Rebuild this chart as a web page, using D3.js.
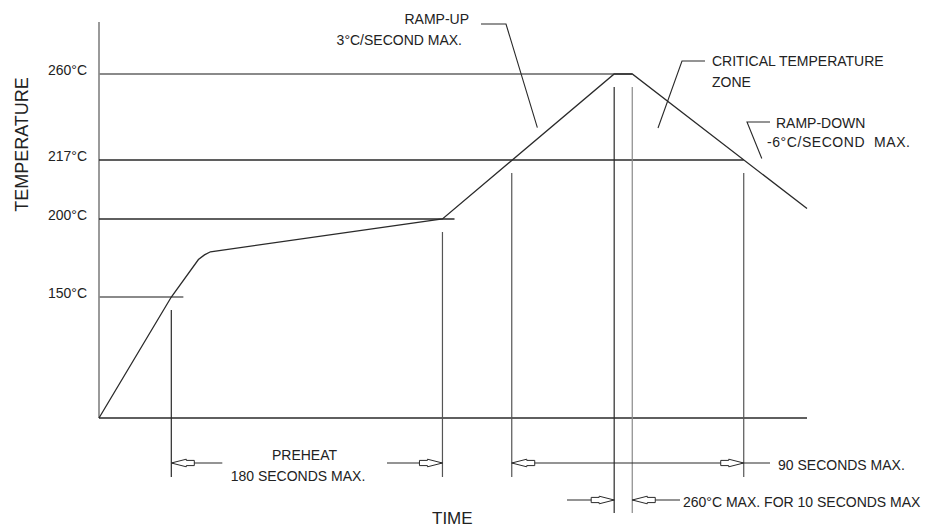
<!DOCTYPE html>
<html>
<head>
<meta charset="utf-8">
<script src="https://cdn.jsdelivr.net/npm/d3@7/dist/d3.min.js"></script>
<style>
  html, body { margin: 0; padding: 0; background: #fff; }
  svg { display: block; }
  text { font-family: "Liberation Sans", Arial, sans-serif; fill: #222; }
</style>
</head>
<body>
<svg id="chart" width="929" height="529"></svg>
<script>
// ---- data (schematic reflow profile) ----
const profileTime = [0, 48, 66, 70, 74, 228, 342, 354, 470];
const profileTemp = [25, 150, 174, 177, 179, 200, 260, 260, 203];
const refTemps = [260, 217, 200, 150];
const refEnds = [354, 428, 236, 56];
const tickValues = [260, 217, 200, 150];
const tickLabels = ["260°C", "217°C", "200°C", "150°C"];
const markerTimes = [48, 228, 274, 342, 354, 428];
const markerTemps = [150, 200, 217, 260, 260, 217];
const leaderTimes = [291, 440]; // ramp-up, ramp-down leader targets on the curve

const svg = d3.select("#chart");
const x = d3.scaleLinear().domain([0, 470]).range([99, 807]);
const y = d3.scaleLinear().domain([25, 150, 200, 217, 260]).range([418, 297, 219, 160, 74]);

const dark = "#2a2a2a", mid = "#555", light = "#8a8a8a";

// y axis line
svg.append("line").attr("x1", x(0)).attr("x2", x(0)).attr("y1", 22).attr("y2", y(25))
  .attr("stroke", "#9a9a9a").attr("stroke-width", 2);

// tick labels through axis
const yAxis = d3.axisLeft(y).tickValues(tickValues).tickSize(0).tickPadding(12)
  .tickFormat(d => tickLabels[tickValues.indexOf(d)]);
const ag = svg.append("g").attr("transform", `translate(${x(0)},0)`).call(yAxis);
ag.select(".domain").remove();
ag.selectAll("text").attr("dy", "0.07em").style("font-size", "14px")
  .style("font-family", '"Liberation Sans", Arial, sans-serif').attr("fill", "#222");

// reference lines
const refStyle = {260: [light, 2], 217: [dark, 1.3], 200: [dark, 1.3], 150: [light, 2]};
refTemps.forEach((t, i) => {
  svg.append("line").attr("x1", x(0)).attr("x2", x(refEnds[i]))
    .attr("y1", y(t)).attr("y2", y(t))
    .attr("stroke", refStyle[t][0]).attr("stroke-width", refStyle[t][1]);
});

// x axis line
svg.append("line").attr("x1", x(0)).attr("x2", x(470)).attr("y1", y(25)).attr("y2", y(25))
  .attr("stroke", dark).attr("stroke-width", 1.3);

// profile curve
const pts = profileTime.map((t, i) => [t, profileTemp[i]]);
svg.append("path").datum(pts)
  .attr("d", d3.line().x(d => x(d[0])).y(d => y(d[1])))
  .attr("fill", "none").attr("stroke", dark).attr("stroke-width", 1.3);

// marker extension lines
const row1 = 463, row2 = 500;
const markerBottoms = [row1 + 14, row1 + 14, row1 + 14, row2 + 13, row2 + 13, row1 + 14];
const markerColors = [dark, mid, mid, dark, light, mid];
markerTimes.forEach((t, i) => {
  svg.append("line").attr("x1", x(t)).attr("x2", x(t))
    .attr("y1", y(markerTemps[i]) + 13).attr("y2", markerBottoms[i])
    .attr("stroke", markerColors[i]).attr("stroke-width", 1.2);
});

// arrowheads (pencil-like: triangle + small tail box)
function arrow(tipX, tipY, dir) { // dir = -1 pointing left, +1 pointing right
  const L = 23, m = 15, h = 3.8, hb = 2.6;
  const p = [[0, 0], [m, -h], [m, -hb], [L, -hb], [L, hb], [m, hb], [m, h]]
    .map(([a, b]) => [tipX - dir * a, tipY + b]);
  svg.append("path").attr("d", "M" + p.map(q => q.join(",")).join("L") + "Z")
    .attr("fill", "#fff").attr("stroke", dark).attr("stroke-width", 1);
}
function seg(x1, x2, yy) {
  svg.append("line").attr("x1", x1).attr("x2", x2).attr("y1", yy).attr("y2", yy)
    .attr("stroke", dark).attr("stroke-width", 1.1);
}
const mx = markerTimes.map(t => x(t));
// preheat
seg(mx[0], mx[0] + 51, row1); arrow(mx[0], row1, -1);
seg(387, mx[1], row1); arrow(mx[1], row1, 1);
// 90 seconds
seg(mx[2], 770, row1); arrow(mx[2], row1, -1); arrow(mx[5], row1, 1);
// 10 seconds at peak
seg(567, mx[3], row2); arrow(mx[3], row2, 1);
seg(mx[4], 680, row2); arrow(mx[4], row2, -1);

// leaders
function curveTempAt(t) { return d3.scaleLinear().domain(profileTime).range(profileTemp)(t); }
function leader(points) {
  svg.append("path").attr("d", d3.line()(points))
    .attr("fill", "none").attr("stroke", dark).attr("stroke-width", 1.1);
}
leader([[481, 24], [506, 24], [x(leaderTimes[0]), y(curveTempAt(leaderTimes[0]))]]);
leader([[705, 61], [682, 61], [658, 128]]);
leader([[770, 122], [747, 122], [x(leaderTimes[1]), y(curveTempAt(leaderTimes[1]))]]);

// texts
function txt(s, xx, yy, anchor, size, extra) {
  const t = svg.append("text").attr("x", xx).attr("y", yy).attr("text-anchor", anchor || "start")
    .style("font-size", (size || 14) + "px").attr("xml:space", "preserve").text(s);
  if (extra) extra(t);
  return t;
}
txt("RAMP-UP", 469, 24, "end");
txt("3°C/SECOND MAX.", 462, 45, "end");
txt("CRITICAL TEMPERATURE", 712, 66);
txt("ZONE", 712, 87);
txt("RAMP-DOWN", 776, 128);
txt("-6°C/SECOND  MAX.", 767, 147, "start", 14, t => t.attr("textLength", 143).attr("lengthAdjust", "spacing"));
txt("PREHEAT", 304.5, 460, "middle");
txt("180 SECONDS MAX.", 298, 481, "middle");
txt("90 SECONDS MAX.", 778, 470);
txt("260°C MAX. FOR 10 SECONDS MAX", 683, 507);
txt("TIME", 432, 524, "start", 17);
svg.append("text").attr("transform", "translate(28,144.5) rotate(-90)")
  .attr("text-anchor", "middle").style("font-size", "18px").text("TEMPERATURE");
</script>
</body>
</html>
